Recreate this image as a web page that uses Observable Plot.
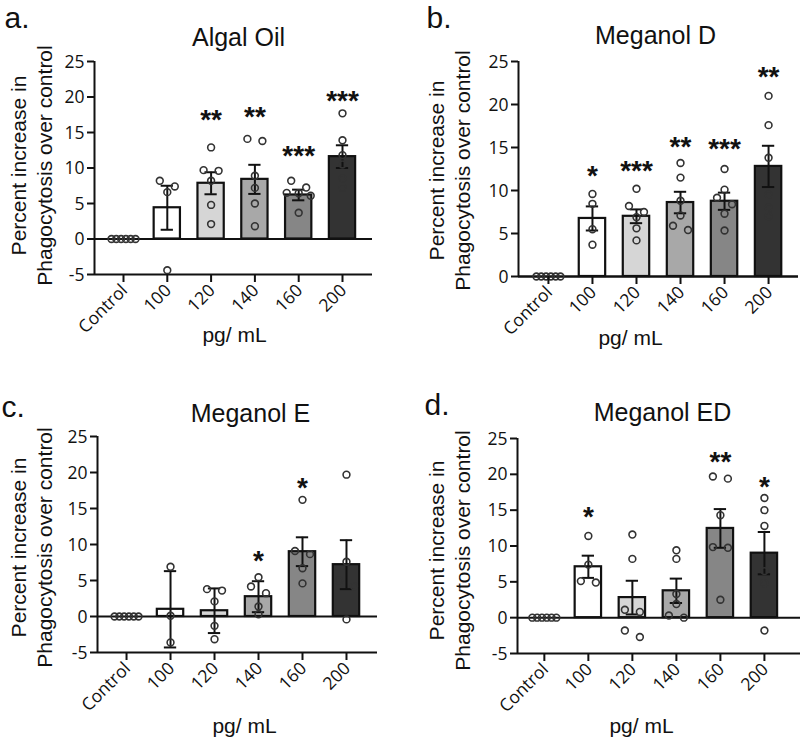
<!DOCTYPE html>
<html><head><meta charset="utf-8">
<script src="https://cdn.jsdelivr.net/npm/d3@7"></script>
<script src="https://cdn.jsdelivr.net/npm/@observablehq/plot@0.6"></script>
<style>
body{margin:0;background:#fff;}
#root{position:relative;width:800px;height:741px;overflow:hidden;}
.tile{position:absolute;width:400px;height:370px;}
</style></head><body><div id="root"></div>
<script>
// ---------- data ----------
const categories = ["Control", "100", "120", "140", "160", "200"];
const panelLetters = ["a.", "b.", "c.", "d."];
const panelTitles = ["Algal Oil", "Meganol D", "Meganol E", "Meganol ED"];
const yTicksWithNeg = [-5, 0, 5, 10, 15, 20, 25];
const yTicksNoNeg = [0, 5, 10, 15, 20, 25];
const yLabel = "Percent increase in\nPhagocytosis over control";
const xLabel = "pg/ mL";
const barFills = ["#ffffff", "#ffffff", "#d6d6d6", "#a8a8a8", "#868686", "#333333"];

// a. Algal Oil
const algalMeans = [0, 4.4, 7.85, 8.4, 6.2, 11.6];
const algalErr = [0, 3.1, 1.55, 2.05, 0.75, 1.6];
const algalPoints = [
  [0, 0, 0, 0, 0, 0],
  [8.2, 7.4, 6.6, -4.4],
  [12.9, 9.7, 9.6, 8.2, 4.8, 2.1],
  [14.1, 13.8, 8.9, 7.2, 5.0, 1.8],
  [8.2, 7.25, 6.5, 6.45, 6.1, 3.7],
  [17.7, 13.9, 11.8, 10.5, 8.5, 7.2]
];
const algalStars = ["", "", "**", "**", "***", "***"];
const algalStarY = [null, null, 17.4, 17.9, 12.4, 20.2];

// b. Meganol D
const megDMeans = [0, 6.75, 7.0, 8.6, 8.75, 12.8];
const megDErr = [0, 1.4, 0.8, 1.25, 1.0, 2.4];
const megDPoints = [
  [0, 0, 0, 0, 0, 0],
  [9.6, 8.45, 5.5, 3.7],
  [10.2, 8.2, 7.5, 6.9, 5.6, 4.2],
  [13.2, 11.5, 8.8, 7.1, 5.9, 5.4],
  [12.5, 10.1, 9.15, 8.4, 7.3, 5.35],
  [21.0, 17.6, 13.8, 9.5, 8.0, 7.0]
];
const megDStars = ["", "*", "***", "**", "***", "**"];
const megDStarY = [null, 12.3, 12.8, 15.6, 15.4, 23.8];

// c. Meganol E
const megEMeans = [0, 1.0, 0.8, 2.75, 9.0, 7.2];
const megEErr = [0, 5.3, 3.1, 2.15, 2.0, 3.4];
const megEPoints = [
  [0, 0, 0, 0, 0, 0],
  [6.9, 0.1, -3.6],
  [3.8, 3.6, 2.1, -1.3, -3.15],
  [5.45, 4.17, 3.24, 1.39, 0.32],
  [16.2, 9.1, 8.66, 6.7, 4.6],
  [19.7, 7.6, 5.0, 4.2, -0.4]
];
const megEStars = ["", "", "", "*", "*", ""];
const megEStarY = [null, null, null, 8.4, 18.5, null];

// d. Meganol ED
const megEDMeans = [0, 7.1, 2.8, 3.75, 12.45, 9.0];
const megEDErr = [0, 1.55, 2.35, 1.7, 2.7, 2.95];
const megEDPoints = [
  [0, 0, 0, 0, 0, 0],
  [11.4, 7.4, 5.1, 4.9],
  [11.6, 8.2, 1.1, 0.8, -1.8, -2.7],
  [9.4, 8.2, 3.3, 1.9, 0.3, 0.0],
  [19.7, 19.4, 14.3, 9.85, 9.75, 2.5],
  [16.7, 15.0, 12.8, 6.5, 4.8, -1.8]
];
const megEDStars = ["", "*", "", "", "**", "*"];
const megEDStarY = [null, 14.8, null, null, 22.4, 18.9];

// ---------- layout (styles / geometry only) ----------
const layouts = [
  {tx: 0, ty: 0, left: 94, right: 372, top: 61, bottom: 274, xDomain: [-0.662, 5.685], yDomain: [-5, 25], yTicks: yTicksWithNeg,
   letter: [4, 27.5], title: [238, 45], ylab: [30, 165], xlab: [234, 341]},
  {tx: 400, ty: 0, left: 118, right: 398, top: 61, bottom: 276, xDomain: [-0.68, 5.68], yDomain: [0, 25], yTicks: yTicksNoNeg,
   letter: [26, 27.5], title: [255, 43], ylab: [48.5, 170], xlab: [230, 344]},
  {tx: 0, ty: 370, left: 97, right: 377, top: 66, bottom: 282, xDomain: [-0.66, 5.705], yDomain: [-5, 25], yTicks: yTicksWithNeg,
   letter: [1, 46], title: [250, 51], ylab: [30, 177], xlab: [244, 362]},
  {tx: 400, ty: 370, left: 117, right: 400, top: 68, bottom: 283, xDomain: [-0.61, 5.82], yDomain: [-5, 25], yTicks: yTicksWithNeg,
   letter: [24, 44], title: [262, 50], ylab: [48.5, 180], xlab: [241, 362]}
];

const panels = [
  {means: algalMeans, err: algalErr, points: algalPoints, stars: algalStars, starY: algalStarY},
  {means: megDMeans, err: megDErr, points: megDPoints, stars: megDStars, starY: megDStarY},
  {means: megEMeans, err: megEErr, points: megEPoints, stars: megEStars, starY: megEStarY},
  {means: megEDMeans, err: megEDErr, points: megEDPoints, stars: megEDStars, starY: megEDStarY}
];

const INK = "#111";
const W = 400, H = 370;
const ARIAL = "'Liberation Sans', Arial, sans-serif";
const TICKFONT = "'Open Sans', sans-serif";
const TICKSIZE = 17.5;

function spread(vals, pxPerUnit) {
  const sorted = vals.slice().sort((a, b) => b - a);
  const rows = [];
  for (const v of sorted) {
    const row = rows[rows.length - 1];
    if (row && (row[0] - v) * pxPerUnit < 7) row.push(v); else rows.push([v]);
  }
  const out = [];
  for (const row of rows) {
    const k = row.length;
    const sp = k > 1 ? Math.min(15, 24 / (k - 1)) : 0;
    row.forEach((v, j) => out.push({v, off: (j - (k - 1) / 2) * sp}));
  }
  return out;
}

function textAt(str, L, px, baseline, fs, opts) {
  return Plot.text([str], {
    frameAnchor: "top-left",
    dx: px - L.left,
    dy: baseline - 0.32 * fs - L.top,
    text: d => d,
    fontSize: fs,
    lineAnchor: "middle",
    fill: INK,
    ...opts
  });
}

function makePanel(idx) {
  const L = layouts[idx], D = panels[idx];
  const [x0, x1] = L.xDomain, [y0, y1] = L.yDomain;
  const pxPerIdx = (L.right - L.left) / (x1 - x0);
  const pxPerUnit = (L.bottom - L.top) / (y1 - y0);
  const bars = categories.map((c, i) => ({i, mean: D.means[i], err: D.err[i], fill: barFills[i]})).filter(b => b.i > 0);
  const caps = bars.flatMap(b => [{i: b.i, y: b.mean + b.err}, {i: b.i, y: b.mean - b.err}]);
  const dots = D.points.flatMap((vals, i) => spread(vals, pxPerUnit).map(p => ({x: i + p.off / pxPerIdx, y: p.v})));
  const stars = D.stars.map((t, i) => ({i, t, y: D.starY[i]})).filter(s => s.t);
  const catIdx = categories.map((c, i) => i);
  const barHalf = 0.3, capHalf = 0.14;

  return Plot.plot({
    width: W, height: H,
    marginLeft: L.left, marginRight: W - L.right, marginTop: L.top, marginBottom: H - L.bottom,
    x: {domain: [x0, x1]},
    y: {domain: [y0, y1]},
    style: {fontFamily: TICKFONT, fontSize: TICKSIZE + "px", background: "transparent", color: INK, overflow: "visible"},
    marks: [
      Plot.rectY(bars, {x1: b => b.i - barHalf, x2: b => b.i + barHalf, y1: 0, y2: "mean", fill: "fill", stroke: INK, strokeWidth: 2.2}),
      Plot.ruleY([0], {stroke: INK, strokeWidth: 2}),
      Plot.ruleY([y0], {stroke: INK, strokeWidth: 2}),
      Plot.ruleX([x0], {y1: y0, y2: y1, stroke: INK, strokeWidth: 2}),
      Plot.ruleX(bars, {x: "i", y1: b => b.mean - b.err, y2: b => b.mean + b.err, stroke: INK, strokeWidth: 2}),
      Plot.ruleY(caps, {y: "y", x1: c => c.i - capHalf, x2: c => c.i + capHalf, stroke: INK, strokeWidth: 2}),
      Plot.dot(dots, {x: "x", y: "y", r: 3.4, stroke: "#333", strokeWidth: 1.6, fill: "none"}),
      Plot.text(stars, {x: "i", y: "y", text: "t", fontSize: 28, fontWeight: "bold", fontFamily: ARIAL, fill: INK, dy: 5}),
      // axis ticks (lines only) + explicit tick labels
      Plot.axisY({ticks: L.yTicks, tickFormat: () => "", tickSize: 7, strokeWidth: 2, label: null}),
      Plot.axisX({ticks: catIdx, tickFormat: () => "", tickSize: 8, strokeWidth: 2, label: null}),
      Plot.text(L.yTicks, {x: x0, y: d => d, text: d => String(d), textAnchor: "end", lineAnchor: "middle", dx: -10, dy: 0.5,
        fontSize: TICKSIZE, fontFamily: TICKFONT, fill: INK}),
      Plot.text(catIdx, {x: d => d, y: y0, text: d => categories[d], rotate: -45, textAnchor: "end", lineAnchor: "middle",
        dx: 1, dy: 13, fontSize: TICKSIZE, fontFamily: TICKFONT, fill: INK}),
      textAt(panelLetters[idx], L, L.letter[0], L.letter[1], 30, {textAnchor: "start", fontFamily: ARIAL}),
      textAt(panelTitles[idx], L, L.title[0], L.title[1], 25, {textAnchor: "middle", fontFamily: ARIAL}),
      textAt(xLabel, L, L.xlab[0], L.xlab[1], 21, {textAnchor: "middle", fontFamily: ARIAL}),
      Plot.text([yLabel], {
        frameAnchor: "top-left",
        dx: L.ylab[0] - L.left,
        dy: L.ylab[1] - L.top,
        text: d => d, rotate: -90, fontSize: 21, lineHeight: 1.24,
        lineAnchor: "middle", textAnchor: "middle", fill: INK,
        fontFamily: ARIAL
      })
    ]
  });
}

const root = document.getElementById("root");
layouts.forEach((L, idx) => {
  const div = document.createElement("div");
  div.className = "tile";
  div.style.left = L.tx + "px";
  div.style.top = L.ty + "px";
  div.appendChild(makePanel(idx));
  root.appendChild(div);
});
</script>
</body></html>
